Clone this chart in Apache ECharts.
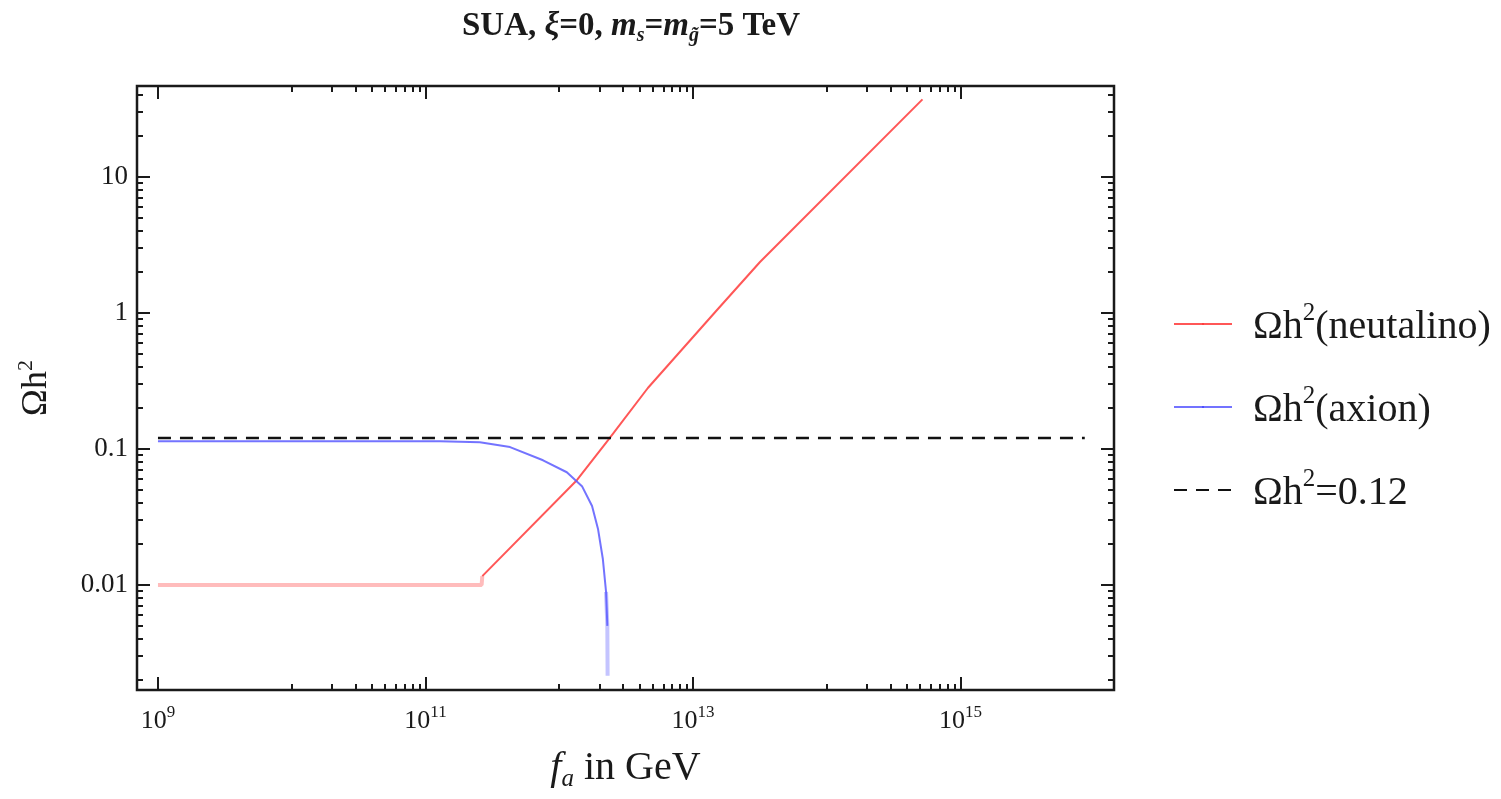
<!DOCTYPE html>
<html>
<head>
<meta charset="utf-8">
<title>SUA relic density</title>
<script src="https://cdn.jsdelivr.net/npm/echarts@6.0.0/dist/echarts.min.js"></script>
<style>
  html, body { margin: 0; padding: 0; background: #fff; }
  #main { width: 1501px; height: 799px; }
</style>
</head>
<body>
<div id="main"></div>
<script>
// f_a (GeV) and Omega h^2
var neutralinoFa = [1e9, 2.63e11, 2.66e11, 1.36e12, 2.32e12, 4.6e12, 1.49e13, 3.17e13, 5.2e14]
var neutralinoOmega = [0.01, 0.01, 0.0116, 0.0591, 0.116, 0.28, 1.03, 2.36, 37]
var axionFa = [1e9, 1.28e11, 2.55e11, 4.29e11, 7.57e11, 1.14e12, 1.48e12, 1.76e12, 1.95e12, 2.12e12, 2.24e12, 2.29e12, 2.30e12]
var axionOmega = [0.1135, 0.1135, 0.112, 0.103, 0.0824, 0.0673, 0.0532, 0.038, 0.0258, 0.0155, 0.0089, 0.005, 0.00215]
var observedFa = [1e9, 8.5e15]
var observedOmega = [0.12, 0.12]

// tick labels
var xTickValues = [1e9, 1e11, 1e13, 1e15]
var xTickExp = ['9', '11', '13', '15']
var yTickValues = [0.01, 0.1, 1, 10]
var yTickLabels = ['0.01', '0.1', '1', '10']

var X_MIN = 6.97e8, X_MAX = 1.406e16
var Y_MIN = 0.00169, Y_MAX = 46.4
var FONT = 'Liberation Serif'
var INK = '#1a1a1a'

// minor ticks like Mathematica: k*10^10, k*10^12 ... on x; 2..9 per decade on y
var xMinor = []
;[1e10, 1e12, 1e14].forEach(function (d) {
  for (var k = 1; k <= 9; k++) xMinor.push(k * d)
})
var yMinor = []
;[1e-3, 1e-2, 1e-1, 1, 10].forEach(function (d) {
  for (var k = 2; k <= 9; k++) {
    var v = k * d
    if (v > Y_MIN && v < Y_MAX) yMinor.push(v)
  }
})

function pairs(xs, ys, from, to) {
  var out = []
  for (var i = from; i < to; i++) out.push([xs[i], ys[i]])
  return out
}

function makeAxis(kind, pos, ticks, len, label) {
  var ax = {
    type: 'log',
    logBase: 10,
    min: kind === 'x' ? X_MIN : Y_MIN,
    max: kind === 'x' ? X_MAX : Y_MAX,
    position: pos,
    offset: 0,
    gridIndex: 0,
    axisLine: { show: false },
    splitLine: { show: false },
    minorTick: { show: false },
    axisTick: {
      show: true,
      inside: true,
      length: len,
      customValues: ticks,
      lineStyle: { color: INK, width: 2 }
    },
    axisLabel: { show: false }
  }
  if (label) ax.axisLabel = label
  return ax
}

var xLabel = {
  show: true,
  customValues: xTickValues,
  margin: 14,
  formatter: function (v) {
    var i = xTickValues.findIndex(function (t) { return Math.abs(Math.log10(t) - Math.log10(v)) < 1e-6 })
    return '{b|10}{e|' + xTickExp[i] + '}'
  },
  rich: {
    b: { fontFamily: FONT, fontSize: 26, color: INK, lineHeight: 30, verticalAlign: 'bottom' },
    e: { fontFamily: FONT, fontSize: 17, color: INK, lineHeight: 16, verticalAlign: 'top' }
  }
}
var yLabel = {
  show: true,
  customValues: yTickValues,
  margin: 9,
  fontFamily: FONT,
  fontSize: 27,
  color: INK,
  formatter: function (v) {
    var i = yTickValues.findIndex(function (t) { return Math.abs(Math.log10(t) - Math.log10(v)) < 1e-6 })
    return yTickLabels[i]
  }
}

var xAxes = [
  makeAxis('x', 'bottom', xTickValues, 13, xLabel),
  makeAxis('x', 'bottom', xMinor, 6),
  makeAxis('x', 'top', xTickValues, 13),
  makeAxis('x', 'top', xMinor, 6)
]
xAxes[0].name = '{i|f}{s|a}{n| in GeV}'
xAxes[0].nameLocation = 'middle'
xAxes[0].nameGap = 58
xAxes[0].nameTextStyle = {
  rich: {
    i: { fontFamily: FONT, fontStyle: 'italic', fontSize: 40, color: INK, lineHeight: 44, verticalAlign: 'top' },
    s: { fontFamily: FONT, fontStyle: 'italic', fontSize: 25, color: INK, lineHeight: 30, verticalAlign: 'bottom' },
    n: { fontFamily: FONT, fontSize: 40, color: INK, lineHeight: 44, verticalAlign: 'top' }
  }
}

var yAxes = [
  makeAxis('y', 'left', yTickValues, 13, yLabel),
  makeAxis('y', 'left', yMinor, 6),
  makeAxis('y', 'right', yTickValues, 13),
  makeAxis('y', 'right', yMinor, 6)
]
yAxes[0].name = '{n|Ωh}{s|2}'
yAxes[0].nameLocation = 'middle'
yAxes[0].nameGap = 82
yAxes[0].nameRotate = 90
yAxes[0].nameTextStyle = {
  rich: {
    n: { fontFamily: FONT, fontSize: 36, color: INK, lineHeight: 40, verticalAlign: 'bottom' },
    s: { fontFamily: FONT, fontSize: 22, color: INK, lineHeight: 20, verticalAlign: 'top' }
  }
}

var supRich = {
  n: { fontFamily: FONT, fontSize: 40, color: INK, lineHeight: 46, verticalAlign: 'bottom' },
  s: { fontFamily: FONT, fontSize: 25, color: INK, lineHeight: 22, verticalAlign: 'top' }
}

var option = {
  animation: false,
  backgroundColor: '#fff',
  title: {
    text: '{n|SUA, }{i|ξ}{n|=0, }{i|m}{s|s}{n|=}{i|m}{s|g̃}{n|=5 TeV}',
    left: 626,
    textAlign: 'center',
    top: 1,
    textStyle: {
      rich: {
        n: { fontFamily: FONT, fontSize: 33, fontWeight: 'bold', color: INK, lineHeight: 40 },
        i: { fontFamily: FONT, fontSize: 33, fontWeight: 'bold', fontStyle: 'italic', color: INK, lineHeight: 40 },
        s: { fontFamily: FONT, fontSize: 20, fontWeight: 'bold', fontStyle: 'italic', color: INK, lineHeight: 22, verticalAlign: 'bottom' }
      }
    }
  },
  grid: {
    left: 137,
    top: 86,
    right: 387,
    bottom: 109,
    show: true,
    borderColor: INK,
    borderWidth: 2.5,
    backgroundColor: '#fff'
  },
  legend: {
    orient: 'vertical',
    left: 1168,
    top: 296,
    itemWidth: 58,
    itemHeight: 2,
    itemGap: 37,
    data: ['neutralino', 'axion', 'observed'],
    formatter: function (name) {
      if (name === 'neutralino') return '{n|Ωh}{s|2}{n|(neutalino)}'
      if (name === 'axion') return '{n|Ωh}{s|2}{n|(axion)}'
      return '{n|Ωh}{s|2}{n|=0.12}'
    },
    textStyle: { rich: supRich, padding: [0, 0, 0, 16] }
  },
  xAxis: xAxes,
  yAxis: yAxes,
  series: [
    {
      name: 'neutralino',
      type: 'line',
      symbol: 'none',
      z: 3,
      data: pairs(neutralinoFa, neutralinoOmega, 2, neutralinoFa.length),
      lineStyle: { color: '#ff3a3a', width: 2, opacity: 0.85 },
      itemStyle: { color: '#ff2020' }
    },
    {
      name: 'neutralino',
      type: 'line',
      symbol: 'none',
      z: 2,
      data: pairs(neutralinoFa, neutralinoOmega, 0, 3),
      lineStyle: { color: '#ffbcbc', width: 4 },
      itemStyle: { color: '#ff2020' }
    },
    {
      name: 'axion',
      type: 'line',
      symbol: 'none',
      z: 3,
      data: pairs(axionFa, axionOmega, 0, 12),
      lineStyle: { color: '#5a5aff', width: 2, opacity: 0.85 },
      itemStyle: { color: '#2020ff' }
    },
    {
      name: 'axion',
      type: 'line',
      symbol: 'none',
      z: 2,
      data: pairs(axionFa, axionOmega, 10, axionFa.length),
      lineStyle: { color: '#c4c4ff', width: 4 },
      itemStyle: { color: '#2020ff' }
    },
    {
      name: 'observed',
      type: 'line',
      symbol: 'none',
      z: 4,
      data: pairs(observedFa, observedOmega, 0, observedFa.length),
      lineStyle: { color: '#111', width: 2.5, type: [13, 9] },
      itemStyle: { color: '#111' }
    }
  ]
}

var chart = echarts.init(document.getElementById('main'), null, { renderer: 'canvas' })
chart.setOption(option)
</script>
</body>
</html>
